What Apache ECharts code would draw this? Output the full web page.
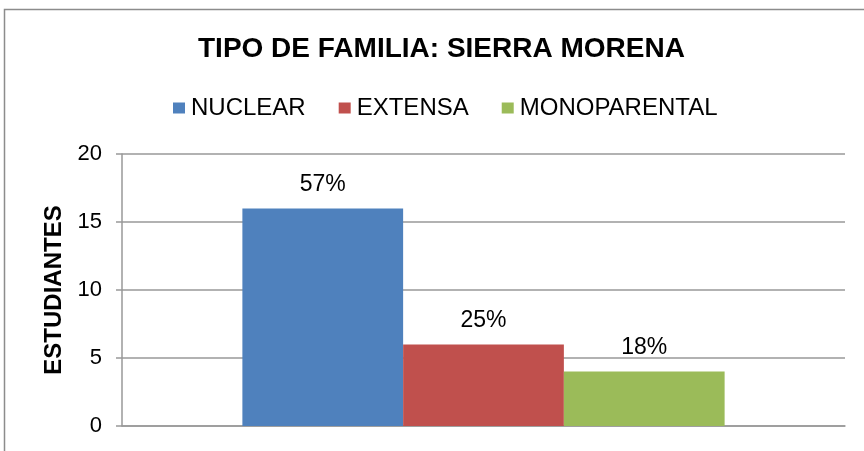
<!DOCTYPE html>
<html>
<head>
<meta charset="utf-8">
<script src="https://cdn.jsdelivr.net/npm/echarts@6/dist/echarts.min.js"></script>
<style>
  html, body { margin: 0; padding: 0; background: #fff; }
  #chart { width: 864px; height: 451px; }
</style>
</head>
<body>
<div id="chart"></div>
<script>
// data
const seriesNames = ['NUCLEAR', 'EXTENSA', 'MONOPARENTAL'];
const students = [16, 6, 4];
const percentLabels = ['57%', '25%', '18%'];
const colors = ['#4f81bd', '#c0504d', '#9bbb59'];
const category = ['SIERRA MORENA'];

const font = '"Liberation Sans", Arial, sans-serif';

const chart = echarts.init(document.getElementById('chart'));

const series = seriesNames.map((name, i) => ({
  name: name,
  type: 'bar',
  data: [students[i]],
  barGap: '0%',
  barCategoryGap: '33.3%',
  itemStyle: { color: colors[i] },
  label: {
    show: true,
    position: 'top',
    distance: 12,
    formatter: () => percentLabels[i],
    color: '#000',
    fontFamily: font,
    fontSize: 23
  }
}));

chart.setOption({
  animation: false,
  graphic: [{
    type: 'rect',
    shape: { x: 4.5, y: 9.5, width: 900, height: 500 },
    style: { fill: 'none', stroke: '#8c8c8c', lineWidth: 1.5 },
    z: -1
  }],
  title: {
    text: 'TIPO DE FAMILIA: SIERRA MORENA',
    left: 193,
    top: 30,
    textStyle: { fontFamily: font, fontWeight: 'bold', fontSize: 28, color: '#000' }
  },
  legend: {
    top: 91,
    left: 168,
    itemWidth: 12,
    itemHeight: 11,
    itemGap: 33,
    icon: 'rect',
    textStyle: { fontFamily: font, fontSize: 24, color: '#000', padding: [0, 0, 0, 1] },
    data: seriesNames
  },
  grid: { left: 122, right: 19, top: 154, bottom: 25 },
  xAxis: {
    type: 'category',
    data: category,
    axisLine: { lineStyle: { color: '#999', width: 1.5 } },
    axisTick: { show: false },
    axisLabel: { show: false }
  },
  yAxis: {
    type: 'value',
    min: 0,
    max: 20,
    interval: 5,
    name: 'ESTUDIANTES',
    nameLocation: 'middle',
    nameGap: 56,
    nameRotate: 90,
    nameTextStyle: { fontFamily: font, fontWeight: 'bold', fontSize: 24, color: '#000' },
    axisLine: { show: true, lineStyle: { color: '#999', width: 1.5 } },
    axisTick: { show: true, length: 6, lineStyle: { color: '#999', width: 1.5 } },
    axisLabel: { fontFamily: font, fontSize: 22, color: '#000', margin: 20 },
    splitLine: { lineStyle: { color: '#999', width: 1.5 } }
  },
  series: series
});
</script>
</body>
</html>
